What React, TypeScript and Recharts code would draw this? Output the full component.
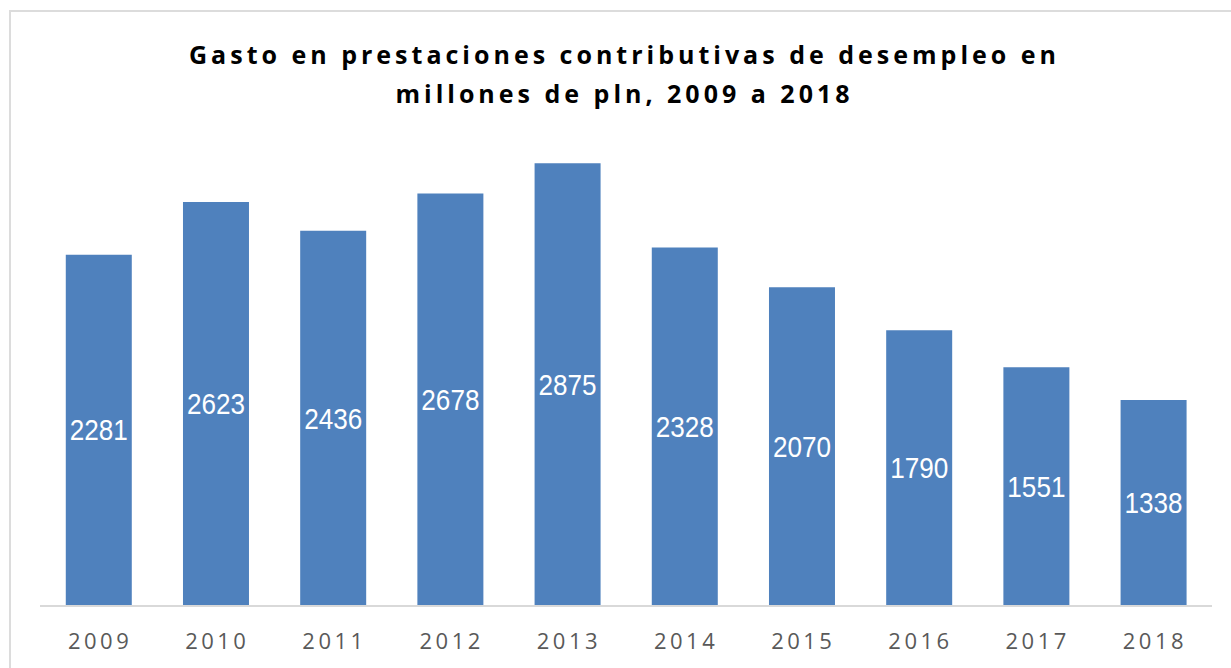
import { Bar, BarChart, LabelList, XAxis, YAxis } from 'recharts';

const years = ['2009', '2010', '2011', '2012', '2013', '2014', '2015', '2016', '2017', '2018'];
const gasto = [2281, 2623, 2436, 2678, 2875, 2328, 2070, 1790, 1551, 1338];

const data = years.map((year, i) => ({ year, value: gasto[i] }));

const W = 1231;
const H = 668;

// narrow white value label centred in the bar (Calibri-like proportions)
const ValueLabel = (props: any) => {
  const { x, y, width, height, value } = props;
  const cx = x + width / 2;
  const cy = y + height / 2;
  return (
    <text transform={`translate(${cx},${cy}) scale(0.87,1)`} textAnchor="middle" dominantBaseline="central"
      fill="#fff" style={{ fontSize: 30, fontFamily: '"Liberation Sans", sans-serif' }}>
      {value}
    </text>
  );
};

const YearTick = (props: any) => {
  const { x, y, payload } = props;
  return (
    <text x={x + 1.5} y={y} dy="0.71em" textAnchor="middle" fill="#595959"
      style={{ fontSize: 22, letterSpacing: 3.5, fontFamily: '"Open Sans", sans-serif' }}>
      {payload.value}
    </text>
  );
};

export default function App() {
  return (
    <div style={{ position: 'absolute', left: 0, top: 0, width: W, height: H, overflow: 'hidden', background: '#fff' }}>
      <div style={{
        position: 'absolute', left: 9, top: 10, width: W, height: H,
        borderTop: '2px solid #dcdcdc', borderLeft: '2px solid #dcdcdc',
      }} />
      <div style={{
        position: 'absolute', left: 9, top: 35, width: W, textAlign: 'center',
        fontFamily: '"Open Sans", sans-serif', fontWeight: 700, fontSize: 25,
        letterSpacing: 4, lineHeight: '39px', color: '#000',
      }}>
        Gasto en prestaciones contributivas de desempleo en<br />millones de pln, 2009 a 2018
      </div>
      <div style={{ position: 'absolute', left: 0, top: 0 }}>
        <BarChart width={W} height={H} data={data} barCategoryGap="22%"
          margin={{ top: 144, right: 19, left: 40, bottom: 0 }}>
          <YAxis hide domain={[0, 3000]} />
          <XAxis dataKey="year" height={62} tickLine={false}
            axisLine={{ stroke: '#d9d9d9', strokeWidth: 2 }} tickMargin={21}
            tick={<YearTick />} />
          <Bar dataKey="value" fill="#4f81bd" isAnimationActive={false}>
            <LabelList dataKey="value" content={<ValueLabel />} />
          </Bar>
        </BarChart>
      </div>
    </div>
  );
}
